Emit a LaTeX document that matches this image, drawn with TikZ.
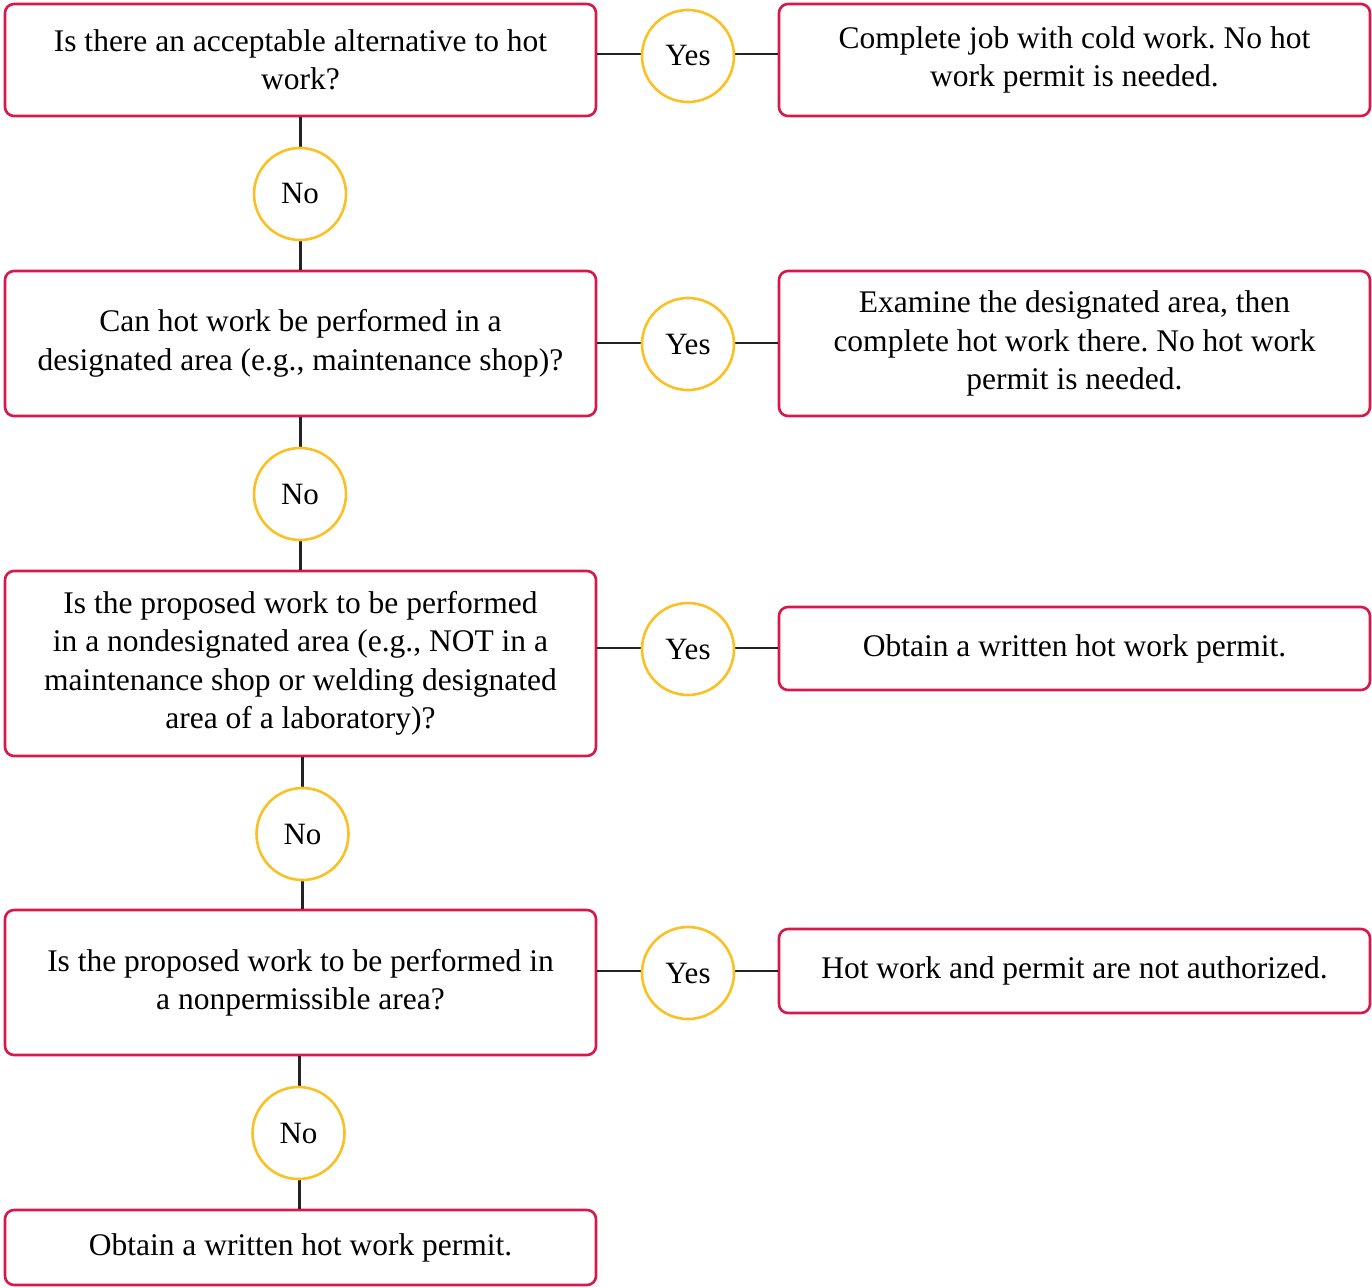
\documentclass[tikz,border=0pt]{standalone}
\usepackage{fontspec}
\setmainfont{Liberation Serif}
\frenchspacing
\definecolor{boxred}{RGB}{214,24,74}
\definecolor{ansyellow}{RGB}{250,192,36}
\definecolor{linegray}{RGB}{35,35,35}
\tikzset{
  qbox/.style={draw=boxred,line width=2.6pt,rounded corners=9pt,align=center,
    minimum width=591pt,inner sep=0pt,font=\fontsize{31.5}{38.5}\selectfont},
  ans/.style={circle,draw=ansyellow,line width=2.6pt,fill=white,minimum size=92pt,
    inner sep=0pt,font=\fontsize{31}{38}\selectfont},
  link/.style={draw=linegray,line width=2.6pt}
}
\begin{document}
\begin{tikzpicture}[x=1pt,y=-1pt]
      \useasboundingbox (0,0) rectangle (1372,1287);
      \draw
        (300.5,60) node[qbox,minimum height=112pt] (q1){Is there an acceptable alternative to hot\\work?}
        (300.5,343.5) node[qbox,minimum height=145pt] (q2){Can hot work be performed in a\\designated area (e.g., maintenance shop)?}
        (300.5,663.5) node[qbox,minimum height=185pt] (q3){Is the proposed work to be performed\\in a nondesignated area (e.g., NOT in a\\maintenance shop or welding designated\\area of a laboratory)?}
        (300.5,982.5) node[qbox,minimum height=145pt] (q4){Is the proposed work to be performed in\\a nonpermissible area?}
        (300.5,1247.5) node[qbox,minimum height=75pt] (q5){Obtain a written hot work permit.}
        (1074.5,60) node[qbox,minimum height=112pt] (a1){Complete job with cold work. No hot\\work permit is needed.}
        (1074.5,343.5) node[qbox,minimum height=145pt] (a2){Examine the designated area, then\\complete hot work there. No hot work\\permit is needed.}
        (1074.5,648.5) node[qbox,minimum height=83pt] (a3){Obtain a written hot work permit.}
        (1074.5,971) node[qbox,minimum height=84pt] (a4){Hot work and permit are not authorized.};
      \begin{scope}[link]
        \draw (q1.south) -- (q2.north);
        \draw (q2.south) -- (q3.north);
        \draw ([xshift=2pt]q3.south) -- ([xshift=2pt]q4.north);
        \draw ([xshift=-1pt]q4.south) -- ([xshift=-1pt]q5.north);
        \draw (q1.east |- 0,54) -- (a1.west |- 0,54);
        \draw (q2.east |- 0,343) -- (a2.west |- 0,343);
        \draw (q3.east |- 0,648) -- (a3.west |- 0,648);
        \draw (q4.east |- 0,971) -- (a4.west |- 0,971);
      \end{scope}
      \draw
        (300,194) node[ans] (n1){No}
        (300,494) node[ans] (n2){No}
        (302.5,834) node[ans] (n3){No}
        (298.5,1133) node[ans] (n4){No}
        (688,56) node[ans] (y1){Yes}
        (688,344) node[ans] (y2){Yes}
        (688,649) node[ans] (y3){Yes}
        (688,973) node[ans] (y4){Yes};
    \end{tikzpicture}
\end{document}
